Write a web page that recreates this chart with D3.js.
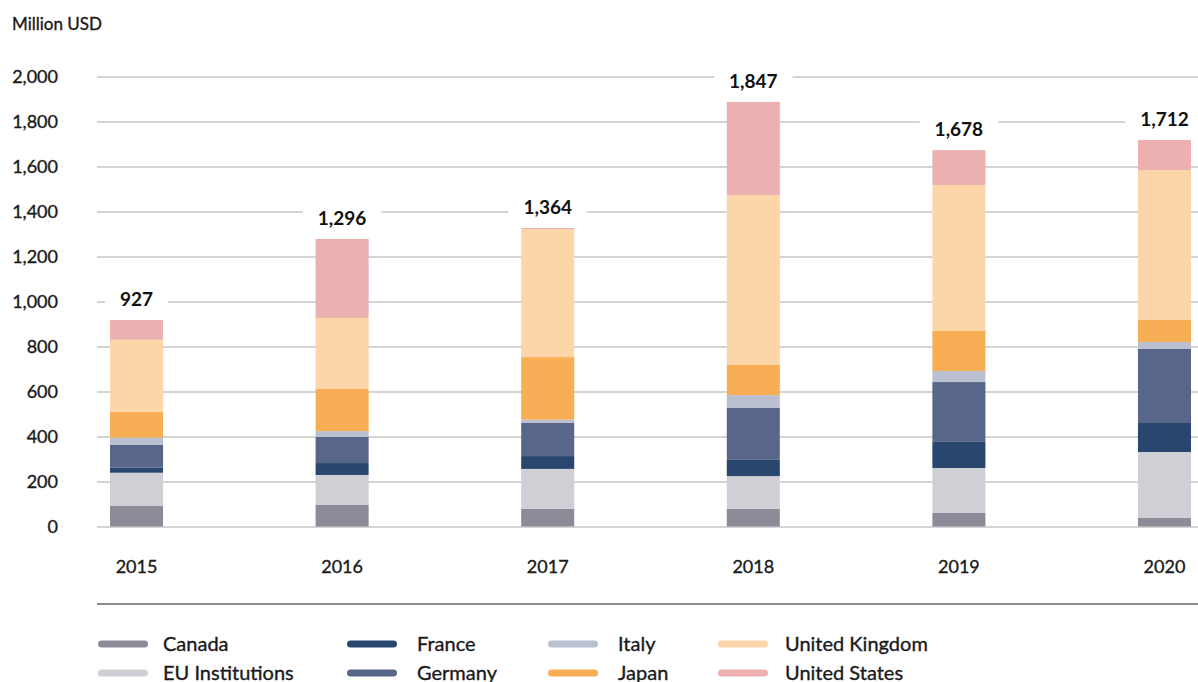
<!DOCTYPE html>
<html>
<head>
<meta charset="utf-8">
<script src="https://cdn.jsdelivr.net/npm/d3@7"></script>
<style>
  body { margin: 0; background: #fff; }
  svg { display: block; font-family: Lato, 'Open Sans', sans-serif; }
  .med { stroke: #1a1a1a; stroke-width: 0.35px; }
</style>
</head>
<body>
<svg id="chart" width="1198" height="682"></svg>
<script>
// values, million USD
const years = ['2015', '2016', '2017', '2018', '2019', '2020']
const canada = [91, 96, 78, 78, 60, 38]
const euInstitutions = [148, 133, 178, 146, 200, 293]
const france = [22, 53, 57, 72, 116, 129]
const germany = [103, 116, 147, 231, 266, 329]
const italy = [31, 26, 15, 57, 49, 31]
const japan = [115, 187, 278, 134, 178, 98]
const unitedKingdom = [320, 316, 569, 755, 649, 666]
const unitedStates = [88, 351, 5, 414, 155, 134]
const totals = [927, 1296, 1364, 1847, 1678, 1712]
const yTicks = [0, 200, 400, 600, 800, 1000, 1200, 1400, 1600, 1800, 2000]

const seriesNames = ['Canada', 'EU Institutions', 'France', 'Germany', 'Italy', 'Japan', 'United Kingdom', 'United States']
const seriesValues = [canada, euInstitutions, france, germany, italy, japan, unitedKingdom, unitedStates]
const colors = ['#8e8b99', '#d1cfd6', '#28466e', '#586789', '#bbc0d1', '#f8ae55', '#fcd6a8', '#ecb0b0']

const rows = years.map((yr, i) => {
  const row = { year: yr }
  seriesNames.forEach((n, k) => { row[n] = seriesValues[k][i] })
  return row
})
const stacked = d3.stack().keys(seriesNames)(rows)

const svg = d3.select('#chart')

const x = d3.scaleBand().domain(years).range([110, 1191]).paddingInner(0.742).paddingOuter(0)
const y = d3.scaleLinear().domain([0, 2000]).range([526.5, 76.5])

// unit label
svg.append('text')
  .attr('class', 'med')
  .attr('x', 12).attr('y', 30)
  .attr('font-size', 17).attr('fill', '#1a1a1a')
  .text('Million USD')

// gridlines + tick labels
const yAxis = svg.append('g')
  .attr('transform', 'translate(97,0)')
  .call(d3.axisLeft(y).tickValues(yTicks).tickSize(-1101).tickPadding(39).tickFormat(d3.format(',')))
yAxis.select('.domain').remove()
yAxis.selectAll('line').attr('stroke', '#c6c6c6').attr('stroke-width', 1.5)
yAxis.selectAll('text').attr('class', 'med').attr('font-size', 18).attr('fill', '#1a1a1a').attr('font-family', 'Lato, sans-serif')

// year labels
const xAxis = svg.append('g')
  .attr('transform', 'translate(0,526.5)')
  .call(d3.axisBottom(x).tickSize(0).tickPadding(34))
xAxis.select('.domain').remove()
xAxis.selectAll('text').attr('class', 'med').attr('font-size', 18).attr('fill', '#1a1a1a').attr('font-family', 'Lato, sans-serif')

// stacked bars
svg.append('g')
  .selectAll('g')
  .data(stacked)
  .enter()
  .append('g')
  .attr('fill', (d, i) => colors[i])
  .selectAll('rect')
  .data(d => d)
  .enter()
  .append('rect')
  .attr('x', d => x(d.data.year))
  .attr('y', d => y(d[1]))
  .attr('width', x.bandwidth())
  .attr('height', d => y(d[0]) - y(d[1]))

// total labels with white patch over the gridline
const topLayer = stacked[stacked.length - 1]
const labels = svg.append('g')
years.forEach((yr, i) => {
  const cx = x(yr) + x.bandwidth() / 2
  const ty = y(topLayer[i][1]) - 14
  const g = labels.append('g')
  const bg = g.append('rect').attr('fill', '#fff')
  const t = g.append('text')
    .attr('x', cx).attr('y', ty)
    .attr('text-anchor', 'middle')
    .attr('font-size', 19).attr('font-weight', 'bold').attr('fill', '#111')
    .text(d3.format(',')(totals[i]))
  const bb = t.node().getBBox()
  bg.attr('x', bb.x - 15).attr('y', bb.y - 2).attr('width', bb.width + 30).attr('height', bb.height + 4)
})

// separator line
svg.append('line')
  .attr('x1', 97).attr('x2', 1198).attr('y1', 604).attr('y2', 604)
  .attr('stroke', '#666').attr('stroke-width', 1.5)

// legend, two rows per column
const colSwatch = [98, 347, 548, 718]
const colText = [163, 417, 618, 785]
const rowY = [644, 673]
const legend = svg.append('g')
seriesNames.forEach((n, k) => {
  const c = Math.floor(k / 2), r = k % 2
  legend.append('line')
    .attr('x1', colSwatch[c] + 3.5).attr('x2', colSwatch[c] + 46.5)
    .attr('y1', rowY[r]).attr('y2', rowY[r])
    .attr('stroke', colors[k]).attr('stroke-width', 7).attr('stroke-linecap', 'round')
  legend.append('text')
    .attr('class', 'med')
    .attr('x', colText[c]).attr('y', rowY[r]).attr('dy', '0.35em')
    .attr('font-size', 20).attr('fill', '#1a1a1a')
    .text(n)
})
</script>
</body>
</html>
